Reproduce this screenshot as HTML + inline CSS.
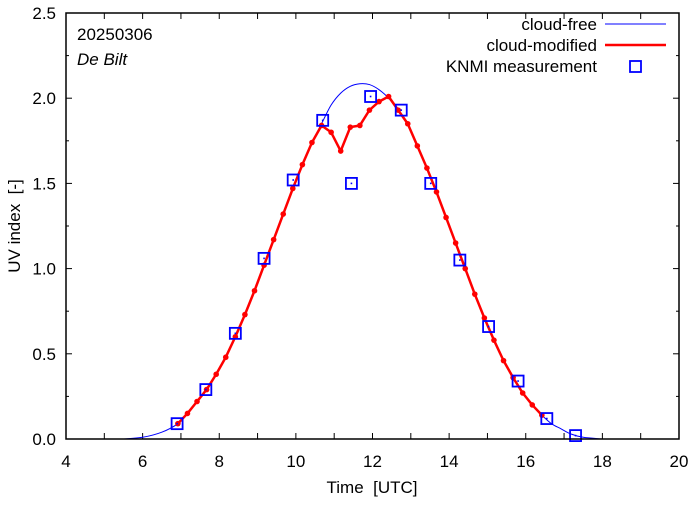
<!DOCTYPE html>
<html><head><meta charset="utf-8"><style>
body{margin:0;background:#fff}
svg text{font-family:"Liberation Sans",sans-serif;font-size:17px;fill:#000;white-space:pre}
</style></head><body>
<svg id="c" width="694" height="501"></svg>
<script>
const xTicks=[4,6,8,10,12,14,16,18,20];
const yTicks=[0,0.5,1.0,1.5,2.0,2.5];
const yLabels=["0.0","0.5","1.0","1.5","2.0","2.5"];
const clearT=[5.5,6,6.5,6.92,7.17,7.42,7.67,7.92,8.17,8.42,8.67,8.92,9.17,9.42,9.67,9.92,10.17,10.42,10.67,10.92,11.17,11.42,11.67,11.92,12.17,12.42,12.67,12.92,13.17,13.42,13.67,13.92,14.17,14.42,14.67,14.92,15.17,15.42,15.67,15.92,16.17,16.42,16.67,16.92,17.17,17.5,18];
const clearV=[0,0.01,0.04,0.09,0.15,0.22,0.29,0.38,0.48,0.6,0.73,0.87,1.02,1.17,1.32,1.47,1.61,1.74,1.85,1.96,2.03,2.07,2.085,2.08,2.05,2.0,1.93,1.85,1.72,1.59,1.45,1.30,1.15,1.0,0.85,0.71,0.58,0.46,0.36,0.27,0.2,0.14,0.09,0.06,0.03,0.01,0];
const cloudT=[6.92,7.17,7.42,7.67,7.92,8.17,8.42,8.67,8.92,9.17,9.42,9.67,9.92,10.17,10.42,10.67,10.92,11.17,11.42,11.67,11.92,12.17,12.42,12.67,12.92,13.17,13.42,13.67,13.92,14.17,14.42,14.67,14.92,15.17,15.42,15.67,15.92,16.17,16.42];
const cloudV=[0.09,0.15,0.22,0.29,0.38,0.48,0.6,0.73,0.87,1.02,1.17,1.32,1.47,1.61,1.74,1.84,1.80,1.69,1.83,1.84,1.93,1.98,2.01,1.93,1.85,1.72,1.59,1.45,1.30,1.15,1.0,0.85,0.71,0.58,0.46,0.36,0.27,0.2,0.14];
const measT=[6.9,7.65,8.42,9.17,9.93,10.7,11.45,11.95,12.75,13.52,14.28,15.03,15.8,16.55,17.3];
const measV=[0.09,0.29,0.62,1.06,1.52,1.87,1.50,2.01,1.93,1.50,1.05,0.66,0.34,0.12,0.02];

const L=66,R=679,T=13,B=439;
const X=t=>L+(t-4)/16*(R-L);
const Y=v=>B-v/2.5*(B-T);
const svg=document.getElementById('c');
const NS='http://www.w3.org/2000/svg';
function mk(tag,at,txt){const e=document.createElementNS(NS,tag);for(const k in at)e.setAttribute(k,at[k]);if(txt!=null)e.textContent=txt;svg.appendChild(e);return e;}
function smooth(ts,vs){let p=[];for(let i=0;i<ts.length;i++)p.push([X(ts[i]),Y(vs[i])]);
 let d='M'+p[0][0]+','+p[0][1];
 for(let i=0;i<p.length-1;i++){const p0=p[Math.max(0,i-1)],p1=p[i],p2=p[i+1],p3=p[Math.min(p.length-1,i+2)];
  const c1=[p1[0]+(p2[0]-p0[0])/6,p1[1]+(p2[1]-p0[1])/6],c2=[p2[0]-(p3[0]-p1[0])/6,p2[1]-(p3[1]-p1[1])/6];
  d+=' C'+c1[0]+','+c1[1]+' '+c2[0]+','+c2[1]+' '+p2[0]+','+p2[1];}
 return d;}

for(let t=4;t<=20;t++){const x=X(t);
 const a=mk('line',{x1:x,x2:x,y1:B,y2:B-6,stroke:'#000'});
 const b=mk('line',{x1:x,x2:x,y1:T,y2:T+6,stroke:'#000'});}
xTicks.forEach(t=>{const e=mk('text',{x:X(t),y:B+28,'text-anchor':'middle'},String(t));});
yTicks.forEach((v,i)=>{const y=Y(v);
 const a=mk('line',{x1:L,x2:L+6,y1:y,y2:y,stroke:'#000'});
 const b=mk('line',{x1:R,x2:R-6,y1:y,y2:y,stroke:'#000'});
 const e=mk('text',{x:L-10,y:y+6,'text-anchor':'end'},yLabels[i]);});
for(let k=0;k<5;k++){const y=Y(k*0.5+0.25);
 const a=mk('line',{x1:L,x2:L+3,y1:y,y2:y,stroke:'#000'});
 const b=mk('line',{x1:R,x2:R-3,y1:y,y2:y,stroke:'#000'});}

const cf=mk('path',{d:smooth(clearT,clearV),fill:'none',stroke:'#0000ff','stroke-width':1});

const cm=mk('polyline',{points:cloudT.map((t,i)=>X(t)+','+Y(cloudV[i])).join(' '),fill:'none',stroke:'#ff0000','stroke-width':2.5,'stroke-linejoin':'round'});

cloudT.forEach((t,i)=>{const d=mk('circle',{cx:X(t),cy:Y(cloudV[i]),r:2.8,fill:'#ff0000'});});
measT.forEach((t,i)=>{const x=X(t),y=Y(measV[i]);
 const s=mk('rect',{x:x-5.5,y:y-5.5,width:11,height:11,fill:'none',stroke:'#0000ff','stroke-width':1.8});
 const d=mk('rect',{x:x-0.8,y:y-0.8,width:1.6,height:1.6,fill:'#0000ff'});});

const fr=mk('rect',{x:L,y:T,width:R-L,height:B-T,fill:'none',stroke:'#000','stroke-width':1.5});

let e;
e=mk('text',{x:77,y:40},'20250306');
e=mk('text',{x:77,y:65,'font-style':'italic'},'De Bilt');
e=mk('text',{x:372,y:493,'text-anchor':'middle'},'Time  [UTC]');
e=mk('text',{x:0,y:0,'text-anchor':'middle',transform:'translate(20,226) rotate(-90)'},'UV index  [-]');

e=mk('text',{x:597,y:30,'text-anchor':'end'},'cloud-free');
e=mk('line',{x1:605,x2:666,y1:24,y2:24,stroke:'#0000ff'});
e=mk('text',{x:597,y:51,'text-anchor':'end'},'cloud-modified');
e=mk('line',{x1:605,x2:666,y1:45,y2:45,stroke:'#ff0000','stroke-width':2.5});
e=mk('text',{x:597,y:72,'text-anchor':'end'},'KNMI measurement');
e=mk('rect',{x:630,y:61,width:11,height:11,fill:'none',stroke:'#0000ff','stroke-width':1.8});
</script>
</body></html>
